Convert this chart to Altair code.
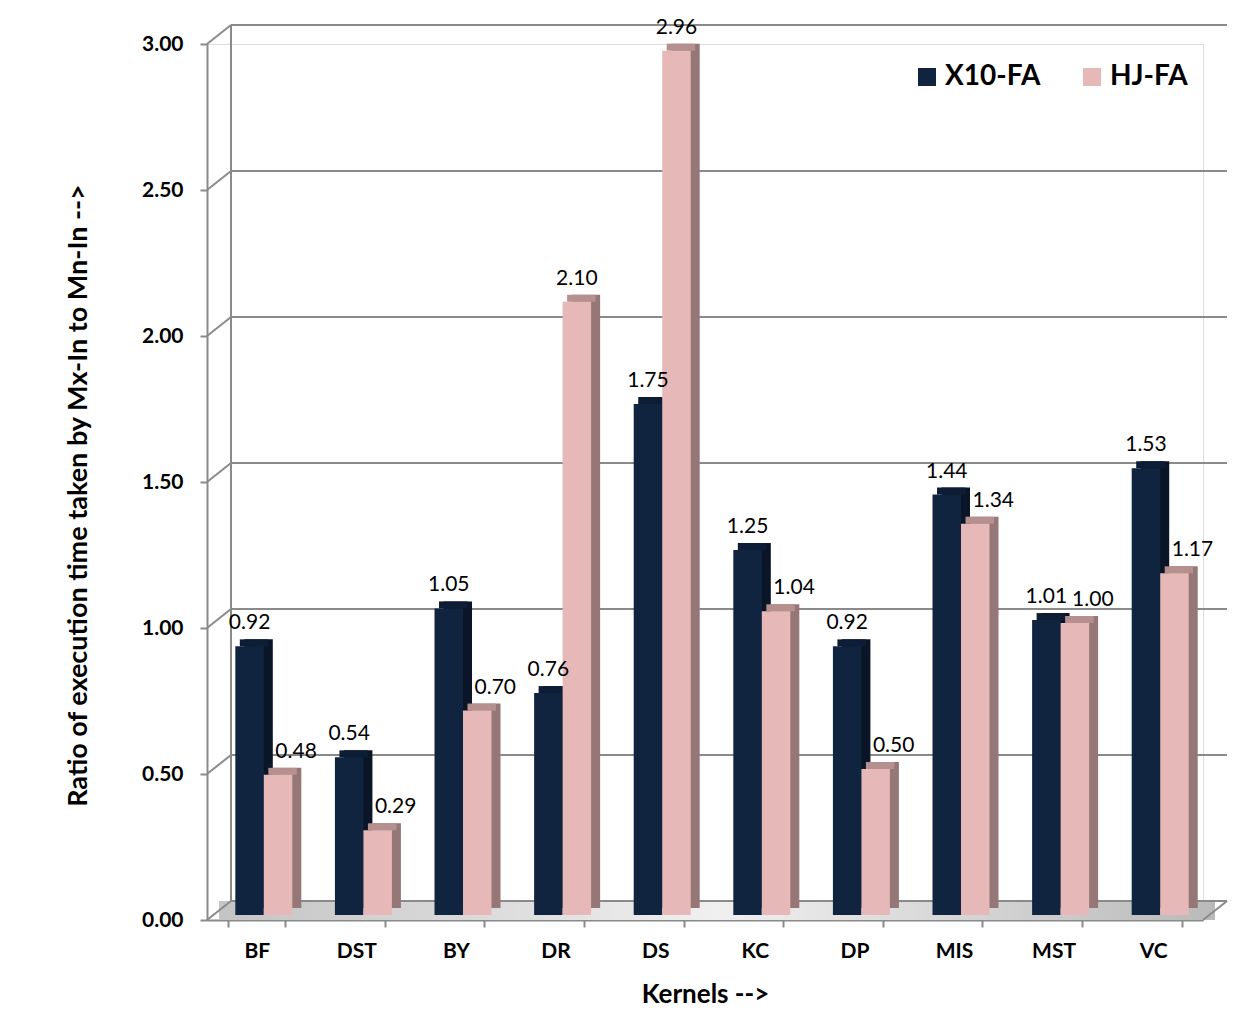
import altair as alt
import pandas as pd

kernels = ["BF", "DST", "BY", "DR", "DS", "KC", "DP", "MIS", "MST", "VC"]
x10_fa = [0.92, 0.54, 1.05, 0.76, 1.75, 1.25, 0.92, 1.44, 1.01, 1.53]
hj_fa = [0.48, 0.29, 0.70, 2.10, 2.96, 1.04, 0.50, 1.34, 1.00, 1.17]
series_names = ["X10-FA", "HJ-FA"]
y_ticks = [0.0, 0.5, 1.0, 1.5, 2.0, 2.5, 3.0]

rows = []
for k, a, b in zip(kernels, x10_fa, hj_fa):
    rows.append({"kernel": k, "series": "X10-FA", "v": a, "other": b})
    rows.append({"kernel": k, "series": "HJ-FA", "v": b, "other": a})
df = pd.DataFrame(rows)
ticks_df = pd.DataFrame({"t": y_ticks})
floor_df = pd.DataFrame({"t": [0.0]})
wall_df = pd.DataFrame({"t": [0.0], "t2": [3.0]})

W, H = 996, 876
DX, DY = 24, -19  # depth of the back wall
FONT = "Lato"
GRID = "#8a8a8a"
GROUP = 57.0      # width of the two bars together

front_x = {"X10-FA": "#10233f", "HJ-FA": "#e6b8b8"}
side_c = {"X10-FA": "#0a1628", "HJ-FA": "#957777"}
top_c = {"X10-FA": "#0e1d36", "HJ-FA": "#b68f8f"}

xenc = alt.X("kernel:N", sort=kernels,
             scale=alt.Scale(paddingInner=0.428, paddingOuter=0.214),
             axis=alt.Axis(title="Kernels -->", tickBand="extent", labelAngle=0,
                           tickSize=7, domainColor=GRID, tickColor=GRID,
                           domainWidth=2, tickWidth=2,
                           labelFont=FONT, labelFontSize=21, labelFontWeight="bold",
                           labelPadding=13, labelColor="black",
                           titleFont=FONT, titleFontSize=26, titleFontWeight="bold",
                           titlePadding=20, titleColor="black"))


def xoff(shift):
    return alt.XOffset("series:N", sort=series_names,
                       scale=alt.Scale(domain=series_names, range=[shift, shift + GROUP],
                                       paddingInner=0, paddingOuter=0))


def xoff_text(shift):
    # text marks use a point scale: one point at the centre of each bar face
    return alt.XOffset("series:N", sort=series_names,
                       scale=alt.Scale(domain=series_names, padding=0,
                                       range=[shift + GROUP / 4, shift + 3 * GROUP / 4]))


yscale = alt.Scale(domain=[0, 3], nice=False, zero=True)
yenc = alt.Y("v:Q", scale=yscale,
             axis=alt.Axis(values=y_ticks, format=".2f", grid=False, tickSize=7,
                           domainColor=GRID, tickColor=GRID, domainWidth=2, tickWidth=2,
                           labelFont=FONT, labelFontSize=21, labelFontWeight="bold",
                           labelPadding=17, labelColor="black",
                           title="Ratio of execution time taken by Mx-In to Mn-In  -->",
                           titleFont=FONT, titleFontSize=27, titleFontWeight="bold",
                           titleColor="black", titleAngle=-90, titleX=-129, titleY=451,
                           titleAlign="center", titleBaseline="middle"))


def cond(cmap):
    return alt.condition("datum.series === 'X10-FA'",
                         alt.value(cmap["X10-FA"]), alt.value(cmap["HJ-FA"]))


floor = alt.Chart(floor_df).mark_rect(
    y2Offset=DY,
    color=alt.Gradient(gradient="linear", x1=0, x2=1, y1=0, y2=0,
                       stops=[alt.GradientStop(color="#c4c4c4", offset=0),
                              alt.GradientStop(color="#f0f0f0", offset=0.5),
                              alt.GradientStop(color="#bababa", offset=1)])
).encode(x=alt.value(DX / 2), x2=alt.value(W + DX / 2),
         y=alt.Y("t:Q", scale=yscale), y2="t:Q")

grid = alt.Chart(ticks_df).mark_rule(color=GRID, strokeWidth=2, yOffset=DY).encode(
    x=alt.value(DX), x2=alt.value(W + DX), y=alt.Y("t:Q", scale=yscale))
conn = alt.Chart(ticks_df).mark_rule(color=GRID, strokeWidth=2, y2Offset=DY).encode(
    x=alt.value(0), x2=alt.value(DX), y=alt.Y("t:Q", scale=yscale), y2="t:Q")
right_conn = alt.Chart(floor_df).mark_rule(color=GRID, strokeWidth=2, y2Offset=DY).encode(
    x=alt.value(W), x2=alt.value(W + DX), y=alt.Y("t:Q", scale=yscale), y2="t:Q")
wall = alt.Chart(wall_df).mark_rule(color=GRID, strokeWidth=2, yOffset=DY, y2Offset=DY).encode(
    x=alt.value(DX), y=alt.Y("t:Q", scale=yscale), y2="t2:Q")

base = alt.Chart(df)
BX, BY = 7, -5    # bar front position inside the depth
SX, SY = 9, -7    # bar depth

side = base.mark_bar(yOffset=BY + SY, y2Offset=BY + SY).encode(
    x=xenc, xOffset=xoff(BX + SX), y=yenc, color=cond(side_c))
top = base.mark_bar(yOffset=BY + SY, y2Offset=BY).encode(
    x=xenc, xOffset=xoff(BX + SX / 2), y=yenc, y2="v:Q", color=cond(top_c))
front = base.mark_bar(yOffset=BY, y2Offset=BY).encode(
    x=xenc, xOffset=xoff(BX), y=yenc,
    color=alt.Color("series:N", sort=series_names,
                    scale=alt.Scale(domain=series_names,
                                    range=[front_x["X10-FA"], front_x["HJ-FA"]]),
                    legend=alt.Legend(title=None, orient="none", legendX=706, legendY=19,
                                      direction="horizontal", symbolType="square",
                                      symbolSize=324, symbolStrokeWidth=0,
                                      labelFont=FONT, labelFontSize=28,
                                      labelFontWeight="bold", labelColor="black",
                                      labelOffset=4, columnPadding=37, padding=0)))

lab_style = dict(font=FONT, fontSize=21, color="black", baseline="middle", dy=-28)
labels_c = base.transform_filter(
    "datum.series === 'X10-FA' || datum.v >= datum.other"
).mark_text(**lab_style).encode(
    x=xenc, xOffset=xoff_text(BX), y=yenc, text=alt.Text("v:Q", format=".2f"))
labels_r = base.transform_filter(
    "datum.series === 'HJ-FA' && datum.v < datum.other"
).mark_text(dx=18, **lab_style).encode(
    x=xenc, xOffset=xoff_text(BX), y=yenc, text=alt.Text("v:Q", format=".2f"))

chart = alt.layer(floor, grid, conn, right_conn, wall, side, top, front, labels_c, labels_r).resolve_scale(
    xOffset="independent"
).properties(
    width=W, height=H,
    autosize=alt.AutoSizeParams(type="none"),
    padding={"left": 199, "top": 36, "right": 40, "bottom": 100},
).configure_view(strokeWidth=0).configure(background="white")

chart.save("out.html", embed_options={"renderer": "svg", "actions": False})
